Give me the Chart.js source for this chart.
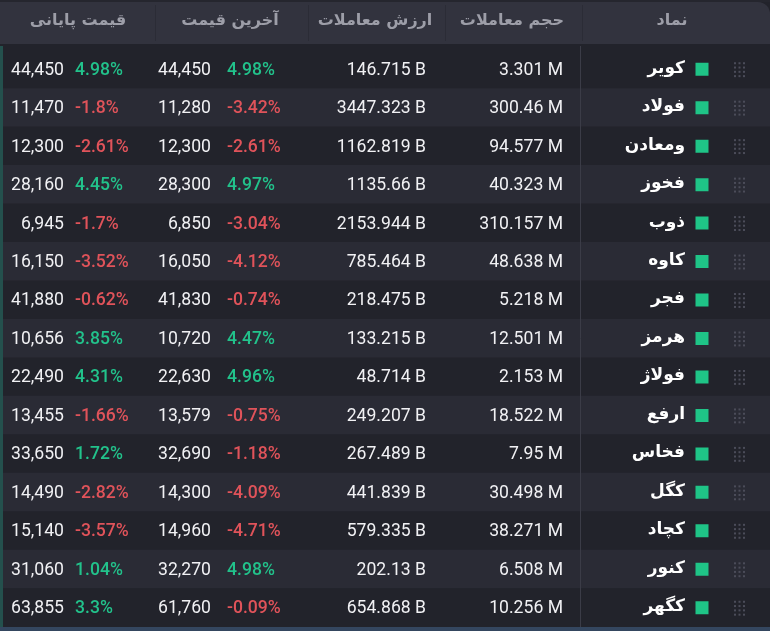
<!DOCTYPE html>
<html lang="fa">
<head>
<meta charset="utf-8">
<script src="https://cdn.jsdelivr.net/npm/chart.js@4.4.1/dist/chart.umd.min.js"></script>
<style>
  html, body { margin: 0; padding: 0; background: #22232b; }
  #table { display: block; }
</style>
</head>
<body>
<canvas id="table" width="770" height="631"></canvas>
<script>
// داده‌های جدول نمادها
const headers = ['قیمت پایانی', 'آخرین قیمت', 'ارزش معاملات', 'حجم معاملات', 'نماد'];
const symbols = ['کویر', 'فولاد', 'ومعادن', 'فخوز', 'ذوب', 'کاوه', 'فجر', 'هرمز', 'فولاژ', 'ارفع', 'فخاس', 'کگل', 'کچاد', 'کنور', 'کگهر'];
const volumes = [3.301, 300.46, 94.577, 40.323, 310.157, 48.638, 5.218, 12.501, 2.153, 18.522, 7.95, 30.498, 38.271, 6.508, 10.256];
const values = [146.715, 3447.323, 1162.819, 1135.66, 2153.944, 785.464, 218.475, 133.215, 48.714, 249.207, 267.489, 441.839, 579.335, 202.13, 654.868];
const lastPrices = [44450, 11280, 12300, 28300, 6850, 16050, 41830, 10720, 22630, 13579, 32690, 14300, 14960, 32270, 61760];
const lastChanges = [4.98, -3.42, -2.61, 4.97, -3.04, -4.12, -0.74, 4.47, 4.96, -0.75, -1.18, -4.09, -4.71, 4.98, -0.09];
const closePrices = [44450, 11470, 12300, 28160, 6945, 16150, 41880, 10656, 22490, 13455, 33650, 14490, 15140, 31060, 63855];
const closeChanges = [4.98, -1.8, -2.61, 4.45, -1.7, -3.52, -0.62, 3.85, 4.31, -1.66, 1.72, -2.82, -3.57, 1.04, 3.3];

// چیدمان ستون‌ها (واحد محور x)
const TABLE_W = 770;
const COL = { closePrice: 64, closePct: 75, lastPrice: 211, lastPct: 227, value: 426, volume: 563, name: 685, square: 702, handle: 740 };
const SEPS = [155, 308, 445, 582];
const HEADER_CENTERS = [78, 230, 375, 512, 672];

const GREEN = '#22c28b';
const RED = '#e0535a';
const NUM_FONT = '17.6px Roboto, "DejaVu Sans", sans-serif';
const PCT_FONT = '500 17.6px Roboto, "DejaVu Sans", sans-serif';

function fmtPrice(v) { return v.toLocaleString('en-US'); }

const tablePlugin = {
    id: 'tablePlugin',
    beforeDraw(chart) {
        const ctx = chart.ctx;
        ctx.save();
        ctx.fillStyle = '#22232b';
        ctx.fillRect(0, 0, chart.width, chart.height);
        // سرستون
        ctx.fillStyle = '#25262e';
        ctx.fillRect(0, 0, chart.width, 2);
        ctx.fillStyle = '#32333e';
        ctx.beginPath();
        ctx.roundRect(0, 2, chart.width, 42, [0, 12, 0, 0]);
        ctx.fill();
        ctx.strokeStyle = '#2b2c36';
        ctx.lineWidth = 1;
        const x = chart.scales.x;
        SEPS.forEach(s => {
            const px = Math.round(x.getPixelForValue(s)) + 0.5;
            ctx.beginPath();
            ctx.moveTo(px, 5);
            ctx.lineTo(px, 41);
            ctx.stroke();
        });
        ctx.fillStyle = '#9d9ea8';
        ctx.font = 'bold 16px "DejaVu Sans", sans-serif';
        ctx.textAlign = 'center';
        ctx.textBaseline = 'middle';
        headers.forEach((h, i) => ctx.fillText(h, x.getPixelForValue(HEADER_CENTERS[i]), 21));
        ctx.restore();
    },
    afterDatasetsDraw(chart) {
        const ctx = chart.ctx;
        const x = chart.scales.x;
        const y = chart.scales.y;
        const area = chart.chartArea;
        ctx.save();
        ctx.textBaseline = 'middle';
        symbols.forEach((s, i) => {
            const cy = y.getPixelForValue(i) + 1;
            // قیمت‌ها و ارزش و حجم
            ctx.font = NUM_FONT;
            ctx.fillStyle = '#f1f1f4';
            ctx.textAlign = 'right';
            ctx.fillText(fmtPrice(closePrices[i]), x.getPixelForValue(COL.closePrice), cy);
            ctx.fillText(fmtPrice(lastPrices[i]), x.getPixelForValue(COL.lastPrice), cy);
            ctx.fillText(values[i] + ' B', x.getPixelForValue(COL.value), cy);
            ctx.fillText(volumes[i] + ' M', x.getPixelForValue(COL.volume), cy);
            // درصد تغییر
            ctx.font = PCT_FONT;
            ctx.textAlign = 'left';
            ctx.fillStyle = closeChanges[i] >= 0 ? GREEN : RED;
            ctx.fillText(closeChanges[i] + '%', x.getPixelForValue(COL.closePct), cy);
            ctx.fillStyle = lastChanges[i] >= 0 ? GREEN : RED;
            ctx.fillText(lastChanges[i] + '%', x.getPixelForValue(COL.lastPct), cy);
            // نام نماد
            ctx.font = 'bold 17px "DejaVu Sans", sans-serif';
            ctx.textAlign = 'right';
            ctx.fillStyle = '#ffffff';
            ctx.fillText(s, x.getPixelForValue(COL.name), cy - 2);
            // دستگیره جابجایی
            ctx.fillStyle = '#4b4c59';
            const hx = x.getPixelForValue(COL.handle);
            for (let r = 0; r < 4; r++) {
                for (let c = 0; c < 3; c++) {
                    ctx.fillRect(hx - 6 + c * 4.5, cy - 8 + r * 4.3, 2, 2);
                }
            }
        });
        // خط جداکننده ستون نماد
        ctx.strokeStyle = '#3b3c47';
        ctx.lineWidth = 1;
        const sx = Math.round(x.getPixelForValue(580)) + 0.5;
        ctx.beginPath();
        ctx.moveTo(sx, area.top - 4);
        ctx.lineTo(sx, chart.height);
        ctx.stroke();
        // نوار کناری و پایینی
        ctx.fillStyle = '#24504d';
        ctx.fillRect(0, area.top - 4, 3, area.bottom - area.top + 4);
        ctx.fillStyle = '#34465f';
        ctx.fillRect(0, area.bottom, chart.width, chart.height - area.bottom);
        ctx.restore();
    }
};

new Chart(document.getElementById('table'), {
    type: 'bar',
    data: {
        labels: symbols,
        datasets: [
            {
                // پس‌زمینه ردیف‌ها
                data: symbols.map(() => [0, TABLE_W]),
                backgroundColor: symbols.map((_, i) => i % 2 === 0 ? '#22232b' : '#2a2b35'),
                barPercentage: 1,
                categoryPercentage: 1,
                borderWidth: 0,
                order: 2
            },
            {
                // مربع سبز کنار نام
                type: 'scatter',
                data: symbols.map(s => ({ x: COL.square, y: s })),
                pointStyle: 'rect',
                pointRadius: 9.2,
                pointBackgroundColor: '#1fc487',
                pointBorderWidth: 0,
                order: 1
            }
        ]
    },
    options: {
        indexAxis: 'y',
        responsive: false,
        animation: false,
        devicePixelRatio: 1,
        layout: { autoPadding: false, padding: { top: 50, bottom: 4, left: 0, right: 0 } },
        plugins: { legend: { display: false }, tooltip: { enabled: false } },
        scales: {
            x: { type: 'linear', min: 0, max: TABLE_W, display: false },
            y: { type: 'category', display: false, offset: true }
        }
    },
    plugins: [tablePlugin]
});
</script>
</body>
</html>
